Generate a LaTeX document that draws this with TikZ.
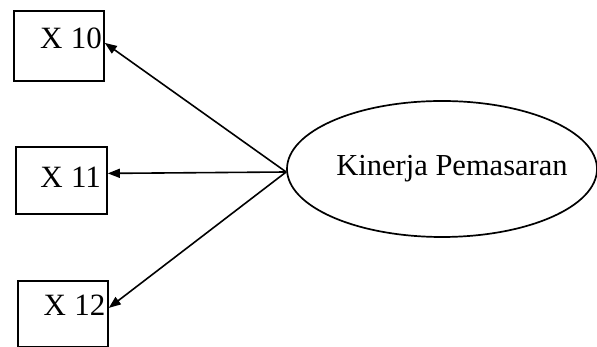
\documentclass[tikz,border=0pt]{standalone}
\usepackage{fontspec}
\setmainfont{Liberation Serif}
\usetikzlibrary{shapes.geometric,arrows.meta}
\begin{document}
\begin{tikzpicture}[x=1pt,y=1pt,
  box/.style={draw,line width=1.8pt,rectangle,inner sep=0pt,minimum width=90pt,font=\fontsize{31}{32}\selectfont},
  lat/.style={draw,line width=1.7pt,ellipse,minimum width=310pt,minimum height=136pt,inner sep=0pt},
  arr/.style={line width=1.6pt,-{Triangle[length=12pt,width=9pt]}}]
\useasboundingbox (0,0) rectangle (597,347);
\node[box,anchor=north west,text width=86pt,align=right,text height=38pt,text depth=32pt] (b1) at (13,337) {X\hspace{-2pt} 10};
\node[box,anchor=north west,text width=79pt,align=right,minimum width=91pt,text height=41pt,text depth=26pt] (b2) at (15,201) {X\hspace{-2pt} 11};
\node[box,anchor=north west,text width=85pt,align=right,text height=35pt,text depth=31pt] (b3) at (17,67) {X\hspace{-2pt} 12};
\node[lat,label={[font=\fontsize{30.5}{31}\selectfont,xshift=10pt,yshift=0pt]center:Kinerja Pemasaran}] (e) at (442,178) {};
\draw[arr] ([yshift=-3pt]e.west) -- ([yshift=3pt]b1.east);
\draw[arr] ([yshift=-3pt]e.west) -- ([yshift=7pt]b2.east);
\draw[arr] ([yshift=-3pt]e.west) -- ([yshift=6pt]b3.east);
\end{tikzpicture}
\end{document}
